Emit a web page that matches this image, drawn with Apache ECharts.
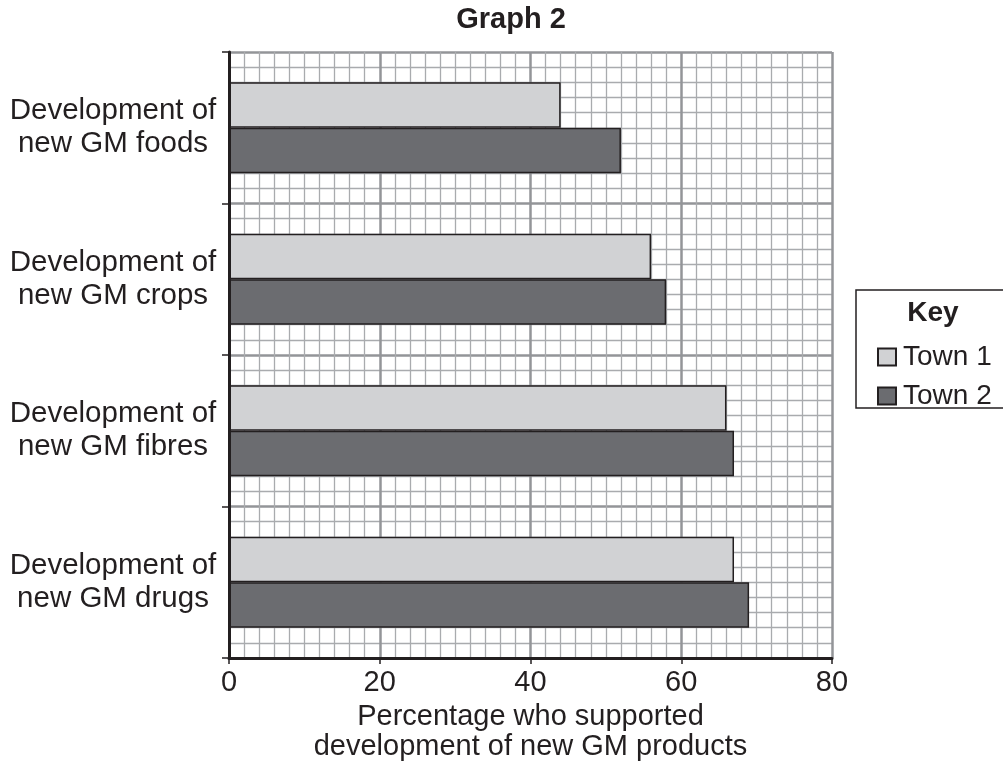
<!DOCTYPE html>
<html>
<head>
<meta charset="utf-8">
<script src="https://cdn.jsdelivr.net/npm/echarts@6/dist/echarts.min.js"></script>
<style>
html,body{margin:0;padding:0;background:#fff;overflow:hidden;}
#chart{width:1003px;height:762px;}
</style>
</head>
<body>
<div id="chart"></div>
<script>
const categories = ['Development of\nnew GM foods', 'Development of\nnew GM crops', 'Development of\nnew GM fibres', 'Development of\nnew GM drugs'];
const town1 = [44, 56, 66, 67];
const town2 = [52, 58, 67, 69];
const xTicks = [0, 20, 40, 60, 80];
const seriesNames = ['Town 1', 'Town 2'];

const FONT = '"Liberation Sans", Arial, Helvetica, sans-serif';
const INK = '#231f20';
const MAJOR = {color: '#939598', width: 2.5};
const MINOR = {color: '#a9abae', width: 1.3};
const chart = echarts.init(document.getElementById('chart'), null, {renderer: 'canvas'});

chart.setOption({
  animation: false,
  backgroundColor: '#fff',
  textStyle: {fontFamily: FONT, color: INK},
  grid: {left: 229, right: 171, top: 52, bottom: 104, containLabel: false, outerBoundsMode: 'none'},
  xAxis: {
    type: 'value', min: xTicks[0], max: xTicks[xTicks.length - 1], interval: 20,
    axisLine: {show: true, lineStyle: {color: INK, width: 3}},
    axisTick: {show: true, length: 6, lineStyle: {color: INK, width: 1.5}},
    axisLabel: {fontSize: 29, color: INK, margin: 10, fontFamily: FONT},
    splitLine: {show: true, lineStyle: MAJOR},
    minorTick: {show: false, splitNumber: 10},
    minorSplitLine: {show: true, lineStyle: MINOR},
    name: 'Percentage who supported\ndevelopment of new GM products',
    nameLocation: 'middle', nameGap: 44,
    nameTextStyle: {fontSize: 29, color: INK, lineHeight: 30, fontFamily: FONT, verticalAlign: 'top'}
  },
  yAxis: [{
    type: 'category', data: categories, inverse: true,
    axisLine: {show: true, lineStyle: {color: INK, width: 3}},
    axisTick: {show: true, length: 7, lineStyle: {color: INK, width: 1.5}},
    axisLabel: {fontSize: 29.5, color: INK, align: 'center', margin: 116, lineHeight: 33,
                padding: [0, 0, 5, 0], fontFamily: FONT},
    splitLine: {show: false},
    z: 5
  }, {
    type: 'value', min: 0, max: 40, interval: 10, position: 'left',
    axisLine: {show: false}, axisTick: {show: false}, axisLabel: {show: false},
    splitLine: {show: true, lineStyle: MAJOR},
    minorTick: {show: false, splitNumber: 10},
    minorSplitLine: {show: true, lineStyle: MINOR}
  }],
  legend: {
    orient: 'vertical', left: 872, top: 338,
    itemWidth: 18, itemHeight: 17, itemGap: 11,
    icon: 'rect',
    textStyle: {fontSize: 28, color: INK, fontFamily: FONT, padding: [0, 0, 0, 2]},
    data: seriesNames
  },
  graphic: [{
    type: 'text', z: 10,
    style: {x: 511, y: 20, text: 'Graph 2', font: 'bold 29px ' + FONT, fill: INK,
            align: 'center', verticalAlign: 'middle'}
  }, {
    type: 'polyline', z: 0,
    shape: {points: [[1200, 290], [856, 290], [856, 408], [1200, 408]]},
    style: {fill: null, stroke: INK, lineWidth: 1.5}
  }, {
    type: 'text', z: 1,
    style: {x: 933, y: 313, text: 'Key', font: 'bold 28px ' + FONT, fill: INK,
            align: 'center', verticalAlign: 'middle'}
  }],
  series: [{
    name: seriesNames[0], type: 'bar', data: town1, yAxisIndex: 0,
    barGap: '0%', barCategoryGap: '40%',
    itemStyle: {color: '#d1d2d4', borderColor: INK, borderWidth: 1.5}
  }, {
    name: seriesNames[1], type: 'bar', data: town2, yAxisIndex: 0,
    barGap: '0%', barCategoryGap: '40%',
    itemStyle: {color: '#6b6c70', borderColor: INK, borderWidth: 1.5}
  }]
});
</script>
</body>
</html>
